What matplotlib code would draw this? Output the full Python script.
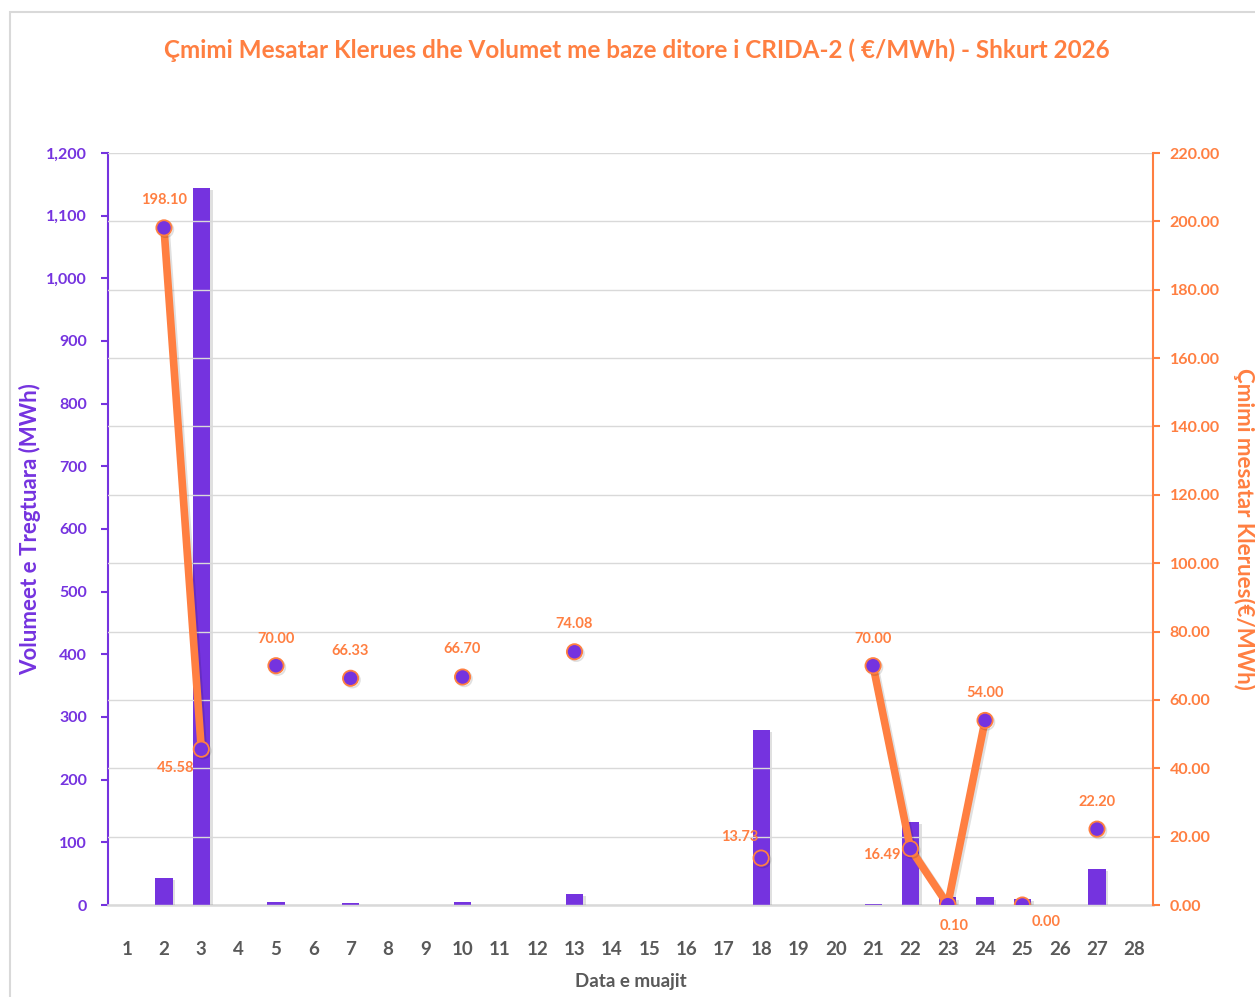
import numpy as np
import matplotlib
matplotlib.use("Agg")
import matplotlib.pyplot as plt
from matplotlib.ticker import FuncFormatter, MultipleLocator
from matplotlib.patches import Rectangle
import matplotlib.patheffects as pe

plt.rcParams['font.family'] = ['Lato', 'DejaVu Sans']

days = list(range(1, 29))
volume = [0, 43, 1144, 0, 4, 0, 3, 0, 0, 4, 0, 0, 17, 0, 0, 0, 0, 279, 0, 0, 2, 132, 12, 12, 10, 0, 57, 0]
price = [np.nan, 198.10, 45.58, np.nan, 70.00, np.nan, 66.33, np.nan, np.nan, 66.70, np.nan, np.nan, 74.08,
         np.nan, np.nan, np.nan, np.nan, 13.73, np.nan, np.nan, 70.00, 16.49, 0.10, 54.00, 0.00, np.nan, 22.20, np.nan]
price_labels = {2: "198.10", 3: "45.58", 5: "70.00", 7: "66.33", 10: "66.70", 13: "74.08", 18: "13.73",
                21: "70.00", 22: "16.49", 23: "0.10", 24: "54.00", 25: "0.00", 27: "22.20"}
# label offsets in pixels (dx, dy)
label_offsets = {2: (0, 28), 3: (-26, -19), 5: (0, 27), 7: (0, 27), 10: (0, 28), 13: (0, 28), 18: (-21, 21),
                 21: (0, 27), 22: (-29, -6), 23: (6, -21), 24: (0, 27), 25: (24, -17), 27: (0, 27)}

title = "Çmimi Mesatar Klerues dhe Volumet me baze ditore i CRIDA-2 ( €/MWh) - Shkurt 2026"

PURPLE = "#7533DF"
ORANGE = "#FF7F41"
GRAY = "#595959"
GRID = "#D9D9D9"

fig = plt.figure(figsize=(12.55, 9.97), dpi=100)
fig.patches.append(Rectangle((10 / 1255, -0.01), 1.1, 1 - 12 / 997 + 0.01, transform=fig.transFigure,
                             fill=False, edgecolor="#D9D9D9", linewidth=1.5))

ax = fig.add_axes([108 / 1255, 1 - 905 / 997, (1153 - 108) / 1255, (905 - 153) / 997])
ax2 = ax.twinx()
ax.set_zorder(1)
ax2.set_zorder(2)
ax.patch.set_visible(False)

bars = ax.bar(days, volume, width=0.46, color=PURPLE, zorder=3)
for b in bars:
    b.set_path_effects([pe.SimplePatchShadow(offset=(2, -1.5), shadow_rgbFace="#000000", alpha=0.12), pe.Normal()])

ax.set_xlim(0.5, 28.5)
ax.set_ylim(0, 1200)
ax.yaxis.set_major_locator(MultipleLocator(100))
ax.yaxis.set_major_formatter(FuncFormatter(lambda v, p: f"{int(v):,}"))
ax2.set_ylim(0, 220)
ax2.yaxis.set_major_locator(MultipleLocator(20))
ax2.yaxis.set_major_formatter(FuncFormatter(lambda v, p: f"{v:.2f}"))
ax2.grid(axis='y', color=GRID, linewidth=1, zorder=0)
ax2.set_axisbelow(True)

# line (break between day 24 and 25)
line_price = list(price)
line_price[24] = np.nan
ax2.plot(days, line_price, color=ORANGE, linewidth=5.5, solid_capstyle='round', zorder=4,
         path_effects=[pe.SimpleLineShadow(offset=(1.5, -1.5), alpha=0.12), pe.Normal()])
ax2.plot(days, price, linestyle='none', marker='o', markersize=11, markerfacecolor=PURPLE,
         markeredgecolor=ORANGE, markeredgewidth=1.3, zorder=5,
         path_effects=[pe.SimpleLineShadow(offset=(1.2, -1.2), alpha=0.12), pe.Normal()])

for d, txt in price_labels.items():
    dx, dy = label_offsets[d]
    ax2.annotate(txt, (d, price[d - 1]), xytext=(dx, dy), textcoords='offset pixels',
                 ha='center', va='center', color=ORANGE, fontsize=10.5, fontweight='bold', zorder=6)

# spines and ticks
for s in ['top']:
    ax.spines[s].set_visible(False)
    ax2.spines[s].set_visible(False)
ax2.spines['left'].set_visible(False)
ax2.spines['bottom'].set_visible(False)
ax.spines['right'].set_visible(False)
ax.spines['left'].set_color(PURPLE)
ax.spines['left'].set_linewidth(1.5)
ax2.spines['right'].set_color(ORANGE)
ax2.spines['right'].set_linewidth(1.5)
ax.spines['bottom'].set_color(GRID)
ax.spines['bottom'].set_linewidth(1.8)

ax.tick_params(axis='y', colors=PURPLE, labelcolor=PURPLE, length=5, width=1.5, direction='out', pad=10,
               labelsize=11.5)
ax2.tick_params(axis='y', colors=ORANGE, labelcolor=ORANGE, length=5, width=1.5, direction='out', pad=7,
                labelsize=11.5)
ax.set_xticks(days)
ax.set_xticklabels([str(d) for d in days])
ax.tick_params(axis='x', length=0, labelcolor=GRAY, labelsize=13.5, pad=26)
for lbl in ax.get_yticklabels():
    lbl.set_fontweight('bold')
for lbl in ax2.get_yticklabels():
    lbl.set_fontweight('bold')
for lbl in ax.get_xticklabels():
    lbl.set_fontweight('bold')

ax.set_xlabel("Data e muajit", color=GRAY, fontsize=13.5, fontweight='bold', labelpad=11)
ax.set_ylabel("Volumeet e Tregtuara (MWh)", color=PURPLE, fontsize=16, fontweight='bold', labelpad=4)
ax2.set_ylabel("Çmimi mesatar Klerues(€/MWh)", color=ORANGE, fontsize=16, fontweight='bold',
               rotation=-90, labelpad=25)

fig.text(637 / 1255, 1 - 50 / 997, title, ha='center', va='center', color=ORANGE, fontsize=17.5,
         fontweight='bold')

fig.savefig("out.png", dpi=100)
